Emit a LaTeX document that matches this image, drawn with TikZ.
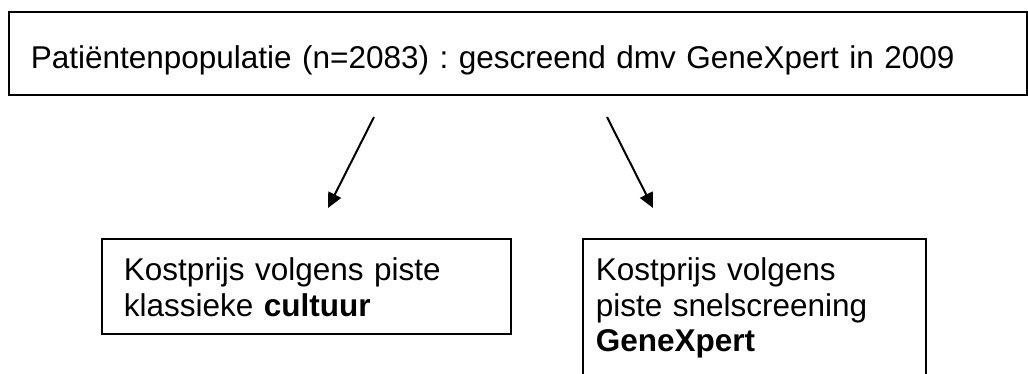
\documentclass[tikz,border=0pt]{standalone}
\usepackage{fontspec}
\setmainfont{Liberation Sans}
\frenchspacing
\usetikzlibrary{arrows.meta}
\tikzstyle{box}=[draw, rectangle, line width=1.6pt, align=left, inner ysep=0pt, anchor=north west, font=\fontsize{31.5}{35.5}\selectfont]
\tikzstyle{arr}=[line width=2pt, -{Triangle[length=15pt,width=14pt]}]

\begin{document}
\begin{tikzpicture}[x=1pt,y=1pt]
\clip (0,0) rectangle (1028,373);
% population
\node[box, text width=974pt, inner xsep=22pt, text height=57pt, text depth=26pt] (pop) at (8,362)
  {Patiëntenpopulatie (n=2083) : gescreend dmv GeneXpert in 2009};
% the two pistes
\node[box, text width=365pt, inner xsep=22pt, text height=42pt, text depth=53pt] (cult) at (101,135)
  {Kostprijs volgens piste\\klassieke \textbf{cultuur}};
\node[box, text width=317pt, inner xsep=13pt, text height=42pt, text depth=120pt] (gx) at (582,135)
  {Kostprijs volgens\\piste snelscreening\\\textbf{GeneXpert}};
\coordinate (cultfrom) at (374,256);
\coordinate (cultto) at (328,165);
\coordinate (gxfrom) at (607,256);
\coordinate (gxto) at (653,165);
\draw[arr] (cultfrom) -- (cultto);
\draw[arr] (gxfrom) -- (gxto);
\end{tikzpicture}
\end{document}
